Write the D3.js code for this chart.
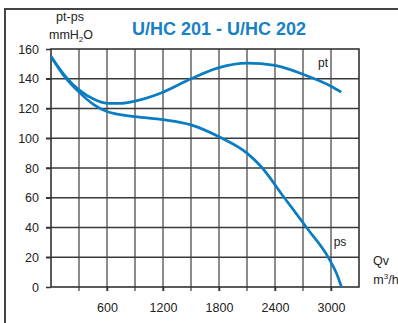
<!DOCTYPE html>
<html>
<head>
<meta charset="utf-8">
<script src="https://cdn.jsdelivr.net/npm/d3@7"></script>
<style>
  html, body { margin: 0; padding: 0; background: #fff; }
  svg { display: block; font-family: "Liberation Sans", Arial, sans-serif; }
</style>
</head>
<body>
<div id="chart"></div>
<script>
// flow rate Qv (m3/h) and pressures (mmH2O)
const flowPt = [0, 150, 300, 450, 600, 750, 900, 1200, 1500, 1800, 2100, 2400, 2700, 3000, 3110];
const valuesPt = [155, 142, 132.5, 126.5, 123.5, 123.5, 125, 131, 140, 147.5, 150.5, 149, 143, 135, 131];
const flowPs = [0, 150, 300, 450, 600, 900, 1200, 1500, 1800, 2100, 2250, 2500, 2750, 2970, 3060, 3112];
const valuesPs = [155, 141, 131, 123, 118, 114.5, 112.5, 109, 101, 90, 81, 60, 39, 20, 9, 0];
const xTicks = [600, 1200, 1800, 2400, 3000];
const yTicks = [0, 20, 40, 60, 80, 100, 120, 140, 160];

const width = 398, height = 323;
const blue = "#0a7dc2";

const svg = d3.select("#chart").append("svg")
    .attr("width", width)
    .attr("height", height);

const x = d3.scaleLinear().domain([0, 3300]).range([51, 359]);
const y = d3.scaleLinear().domain([0, 160]).range([287, 49]);

// outer frame (top + left)
svg.append("path")
    .attr("d", "M5,323V9H398")
    .attr("fill", "none")
    .attr("stroke", "#444")
    .attr("stroke-width", 2);

// vertical grid every 300
svg.append("g")
    .selectAll("line")
    .data(d3.range(300, 3300, 300))
    .join("line")
    .attr("x1", (d) => x(d)).attr("x2", (d) => x(d))
    .attr("y1", y(160)).attr("y2", y(0) + 4)
    .attr("stroke", "#6e6e6e")
    .attr("stroke-width", 1.6);

// horizontal grid
svg.append("g")
    .selectAll("line")
    .data(yTicks.slice(1, -1))
    .join("line")
    .attr("x1", x(0) - 5).attr("x2", x(3300))
    .attr("y1", (d) => y(d)).attr("y2", (d) => y(d))
    .attr("stroke", "#3a3a3a")
    .attr("stroke-width", 1.3);

// plot border
svg.append("rect")
    .attr("x", x(0)).attr("y", y(160))
    .attr("width", x(3300) - x(0)).attr("height", y(0) - y(160))
    .attr("fill", "none")
    .attr("stroke", "#333")
    .attr("stroke-width", 1.6);

// axes
const yAxis = svg.append("g")
    .attr("transform", `translate(${x(0)},0)`)
    .call(d3.axisLeft(y).tickValues(yTicks).tickSize(5).tickPadding(7).tickFormat(d3.format("d")));
const xAxis = svg.append("g")
    .attr("transform", `translate(0,${y(0)})`)
    .call(d3.axisBottom(x).tickValues(xTicks).tickSize(4).tickPadding(12).tickFormat(d3.format("d")));
[yAxis, xAxis].forEach((g) => {
    g.select(".domain").remove();
    g.selectAll(".tick line").attr("stroke", "#333").attr("stroke-width", 1.5);
    g.selectAll("text")
        .attr("font-size", 12.5)
        .attr("fill", "#222")
        .attr("font-family", "Liberation Sans, Arial, sans-serif");
});

// curves
const line = d3.line()
    .x((d) => x(d[0]))
    .y((d) => y(d[1]))
    .curve(d3.curveMonotoneX);

svg.append("path")
    .datum(d3.zip(flowPt, valuesPt))
    .attr("d", line)
    .attr("fill", "none")
    .attr("stroke", blue)
    .attr("stroke-width", 2.7);

svg.append("path")
    .datum(d3.zip(flowPs, valuesPs))
    .attr("d", line)
    .attr("fill", "none")
    .attr("stroke", blue)
    .attr("stroke-width", 2.7);

// texts
svg.append("text")
    .attr("x", 219).attr("y", 35)
    .attr("text-anchor", "middle")
    .attr("font-size", 18).attr("font-weight", "bold")
    .attr("fill", "#1a80c6")
    .text("U/HC 201 - U/HC 202");

svg.append("text")
    .attr("x", 70).attr("y", 21)
    .attr("text-anchor", "middle").attr("font-size", 12.5).attr("fill", "#222")
    .text("pt-ps");

const unitY = svg.append("text")
    .attr("x", 71).attr("y", 39)
    .attr("text-anchor", "middle").attr("font-size", 12.5).attr("fill", "#222");
unitY.append("tspan").text("mmH");
unitY.append("tspan").attr("font-size", 8).attr("dy", 3).text("2");
unitY.append("tspan").attr("dy", -3).text("O");

svg.append("text")
    .attr("x", 381).attr("y", 265)
    .attr("text-anchor", "middle").attr("font-size", 12.5).attr("fill", "#222")
    .text("Qv");

const unitX = svg.append("text")
    .attr("x", 386).attr("y", 284)
    .attr("text-anchor", "middle").attr("font-size", 12.5).attr("fill", "#222");
unitX.append("tspan").text("m");
unitX.append("tspan").attr("font-size", 8).attr("dy", -5).text("3");
unitX.append("tspan").attr("dy", 5).text("/h");

svg.append("text")
    .attr("x", 323).attr("y", 67)
    .attr("text-anchor", "middle").attr("font-size", 12).attr("fill", "#222")
    .text("pt");

svg.append("text")
    .attr("x", 340).attr("y", 246)
    .attr("text-anchor", "middle").attr("font-size", 12).attr("fill", "#222")
    .text("ps");
</script>
</body>
</html>
